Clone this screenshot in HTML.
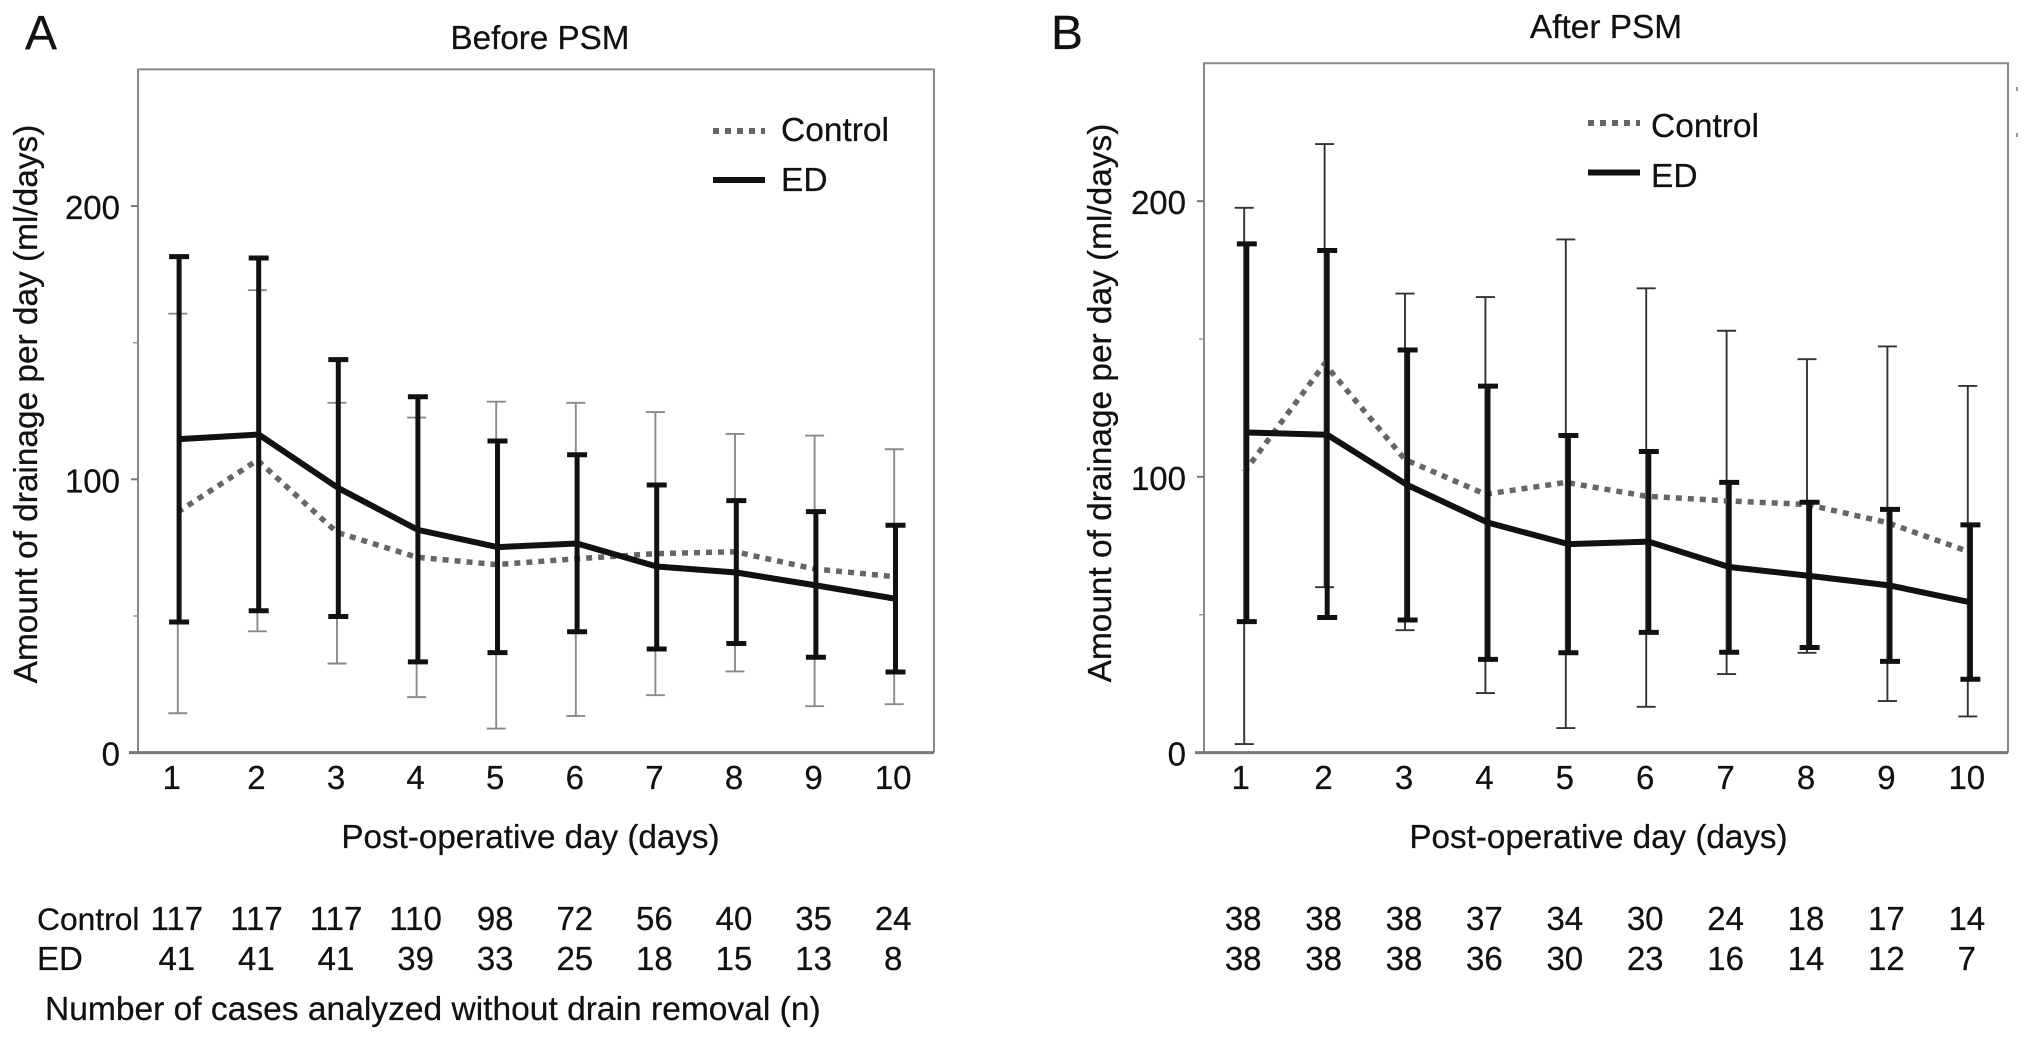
<!DOCTYPE html>
<html lang="en">
<head>
<meta charset="utf-8">
<title>Drainage per day before and after PSM</title>
<style>
  html, body { margin: 0; padding: 0; background: #fff; }
  #figure { display: block; width: 2032px; height: 1040px; }
  text { font-family: "Liberation Sans", Arial, sans-serif; fill: #111; stroke: #111; stroke-width: 0.25; }
</style>
</head>
<body>
<svg id="figure" xmlns="http://www.w3.org/2000/svg" width="2032" height="1040" viewBox="0 0 2032 1040">
  <rect x="0" y="0" width="2032" height="1040" fill="#fff"/>

  <text x="25" y="49" font-size="48">A</text>
  <text x="540" y="49" font-size="33.2" text-anchor="middle">Before PSM</text>
  <text transform="translate(37,404) rotate(-90)" font-size="33.4" text-anchor="middle">Amount of drainage per day (ml/days)</text>
  <text x="530.5" y="848" font-size="33.2" text-anchor="middle">Post-operative day (days)</text>
  <text x="37" y="930" font-size="31.8">Control</text>
  <text x="37" y="970" font-size="33">ED</text>
  <text x="45" y="1020" font-size="33.55">Number of cases analyzed without drain removal (n)</text>

  <text x="1051" y="49" font-size="48">B</text>
  <text x="1606" y="38" font-size="33.4" text-anchor="middle">After PSM</text>
  <text transform="translate(1111,403) rotate(-90)" font-size="33.4" text-anchor="middle">Amount of drainage per day (ml/days)</text>
  <text x="1598.5" y="848" font-size="33.2" text-anchor="middle">Post-operative day (days)</text>

  <rect x="2016" y="87" width="2" height="4" fill="#999"/>
  <rect x="2016" y="133" width="2" height="4" fill="#999"/>

  <g id="panel-a"></g>
  <g id="panel-b"></g>
</svg>

<script>
const days = [1, 2, 3, 4, 5, 6, 7, 8, 9, 10];
const yTickLabels = [0, 100, 200];
const yMinorTicks = [50, 150];

const controlMeanA  = [88, 107, 80.6, 71.5, 68.8, 70.9, 72.8, 73.5, 67.2, 64.4];
const controlUpperA = [160.6, 169.2, 128, 122.6, 128.4, 128, 124.6, 116.6, 116, 111];
const controlLowerA = [14.4, 44.4, 32.6, 20.3, 8.8, 13.4, 21, 29.7, 17, 17.7];
const edMeanA  = [114.7, 116.4, 96.8, 81.5, 75.2, 76.5, 68.1, 65.9, 61.2, 56.3];
const edUpperA = [181.5, 181, 143.8, 130.2, 114, 109, 97.9, 92.2, 88.2, 83.2];
const edLowerA = [47.8, 51.9, 49.8, 33.2, 36.6, 44.2, 37.9, 39.9, 34.9, 29.5];
const controlCountsA = [117, 117, 117, 110, 98, 72, 56, 40, 35, 24];
const edCountsA = [41, 41, 41, 39, 33, 25, 18, 15, 13, 8];

const controlMeanB  = [101.7, 141, 106.3, 93.7, 98, 93, 91.3, 90, 83.4, 73];
const controlUpperB = [197.6, 220.7, 166.5, 165.2, 186.1, 168.4, 153, 142.7, 147.3, 133];
const controlLowerB = [3.1, 60, 44.4, 21.6, 8.9, 16.6, 28.5, 36.2, 18.7, 13.1];
const edMeanB  = [116.1, 115.3, 97, 83.4, 75.6, 76.5, 67.3, 64.1, 60.6, 54.5];
const edUpperB = [184.5, 182.1, 146, 132.9, 115, 109.2, 98, 90.8, 88.2, 82.6];
const edLowerB = [47.5, 49, 48.1, 33.8, 36.2, 43.6, 36.4, 38.1, 33.1, 26.6];
const controlCountsB = [38, 38, 38, 37, 34, 30, 24, 18, 17, 14];
const edCountsB = [38, 38, 38, 36, 30, 23, 16, 14, 12, 7];

const SVG_NS = 'http://www.w3.org/2000/svg';

function shape(parent, tag, attrs) {
  const el = document.createElementNS(SVG_NS, tag);
  for (const key in attrs) el.setAttribute(key, attrs[key]);
  parent.appendChild(el);
  return el;
}

function drawPanel(id, geo, series) {
  const root = document.getElementById(id);
  const xScale = d => geo.left + (d - 0.5) / 10 * (geo.right - geo.left);
  const yScale = v => geo.bottom - v / 250 * (geo.bottom - geo.top);

  const frame = shape(root, 'path', { d: `M${geo.left} ${geo.bottom}V${geo.top}H${geo.right}V${geo.bottom}`, fill: 'none', stroke: '#888', 'stroke-width': 2 });
  
  
  const baseline = shape(root, 'line', { x1: geo.left - 9, x2: geo.right, y1: geo.bottom, y2: geo.bottom, stroke: '#777', 'stroke-width': 3 });
  
  

  yTickLabels.forEach(v => {
    const y = yScale(v);
    if (v > 0) {
      const tick = shape(root, 'line', { x1: geo.left - 7, x2: geo.left, y1: y, y2: y, stroke: '#777', 'stroke-width': 2 });
      
      
    }
    const label = shape(root, 'text', { x: geo.left - 18, y: y + 13, 'font-size': 33, 'text-anchor': 'end' });
    label.textContent = v;
    
    
  });

  yMinorTicks.forEach(v => {
    const y = yScale(v);
    const minor = shape(root, 'line', { x1: geo.left - 5, x2: geo.left, y1: y, y2: y, stroke: '#999', 'stroke-width': 1.5 });
    
    
  });

  days.forEach((d, i) => {
    const x = xScale(d) - 1;
    const tickLabel = shape(root, 'text', { x: i === 0 ? x + geo.firstTickShift : x, y: 789, 'font-size': 33, 'text-anchor': 'middle' });
    tickLabel.textContent = d;
    
    
    const controlCount = shape(root, 'text', { x: x, y: 930, 'font-size': 33, 'text-anchor': 'middle' });
    controlCount.textContent = series.controlCounts[i];
    
    
    const edCount = shape(root, 'text', { x: x, y: 970, 'font-size': 33, 'text-anchor': 'middle' });
    edCount.textContent = series.edCounts[i];
    
    
  });

  days.forEach((d, i) => {
    const x = xScale(d);
    const bar = shape(root, 'path', {
      d: `M${x} ${yScale(series.controlUpper[i])}V${yScale(series.controlLower[i])}` +
         `M${x - 9.5} ${yScale(series.controlUpper[i])}h19` +
         `M${x - 9.5} ${yScale(series.controlLower[i])}h19`,
      fill: 'none', stroke: geo.barColor, 'stroke-width': 1.9 });
    
    
  });

  const controlPath = shape(root, 'polyline', {
    points: days.map((d, i) => xScale(d) + ',' + yScale(series.controlMean[i])).join(' '),
    fill: 'none', stroke: '#666', 'stroke-width': 5.5, 'stroke-dasharray': '6 6' });
  
  

  days.forEach((d, i) => {
    const x = xScale(d) + geo.edShift;
    const bar = shape(root, 'path', {
      d: `M${x} ${yScale(series.edUpper[i])}V${yScale(series.edLower[i])}` +
         `M${x - 10} ${yScale(series.edUpper[i])}h20` +
         `M${x - 10} ${yScale(series.edLower[i])}h20`,
      fill: 'none', stroke: '#111', 'stroke-width': 5 });
    
    
  });

  const edPath = shape(root, 'polyline', {
    points: days.map((d, i) => (xScale(d) + geo.edShift) + ',' + yScale(series.edMean[i])).join(' '),
    fill: 'none', stroke: '#111', 'stroke-width': 6, 'stroke-linejoin': 'round' });
  
  

  const legendDash = shape(root, 'line', { x1: geo.legX, x2: geo.legX + 52, y1: geo.legY1, y2: geo.legY1, stroke: '#666', 'stroke-width': 6, 'stroke-dasharray': '6 6' });
  
  
  const legendSolid = shape(root, 'line', { x1: geo.legX, x2: geo.legX + 52, y1: geo.legY2, y2: geo.legY2, stroke: '#111', 'stroke-width': 6 });
  
  
  const legendControl = shape(root, 'text', { x: geo.legTextX, y: geo.legTextY1, 'font-size': 33.5 });
  legendControl.textContent = 'Control';
  
  
  const legendEd = shape(root, 'text', { x: geo.legTextX, y: geo.legTextY2, 'font-size': 33.5 });
  legendEd.textContent = 'ED';
  
  
}

drawPanel('panel-a',
  { left: 138, right: 934, top: 69.4, bottom: 752.6, edShift: 1.3, barColor: '#8a8a8a', firstTickShift: -5,
    legX: 713, legY1: 131, legY2: 180, legTextX: 781, legTextY1: 141, legTextY2: 191 },
  { controlMean: controlMeanA, controlUpper: controlUpperA, controlLower: controlLowerA,
    edMean: edMeanA, edUpper: edUpperA, edLower: edLowerA,
    controlCounts: controlCountsA, edCounts: edCountsA });

drawPanel('panel-b',
  { left: 1204, right: 2008, top: 63.3, bottom: 752.6, edShift: 2.6, barColor: '#333', firstTickShift: -2.5,
    legX: 1588, legY1: 123, legY2: 172.5, legTextX: 1651, legTextY1: 137, legTextY2: 187 },
  { controlMean: controlMeanB, controlUpper: controlUpperB, controlLower: controlLowerB,
    edMean: edMeanB, edUpper: edUpperB, edLower: edLowerB,
    controlCounts: controlCountsB, edCounts: edCountsB });
</script>
</body>
</html>
